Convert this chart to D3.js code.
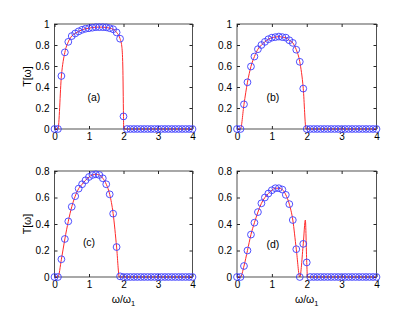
<!DOCTYPE html>
<html>
<head>
<meta charset="utf-8">
<script src="https://cdn.jsdelivr.net/npm/d3@7.9.0/dist/d3.min.js"></script>
<style>
  body { margin: 0; background: #fff; }
  svg { display: block; font-family: "Liberation Sans", Arial, sans-serif; }
  .tick text { font-size: 10px; fill: #000; }
</style>
</head>
<body>
<svg width="415" height="312"></svg>
<script>
// sample grid (omega / omega_1)
const omega = [0, 0.1, 0.2, 0.3, 0.4, 0.5, 0.6, 0.7, 0.8, 0.9, 1.0,
  1.1, 1.2, 1.3, 1.4, 1.5, 1.6, 1.7, 1.8, 1.9, 2.0,
  2.1, 2.2, 2.3, 2.4, 2.5, 2.6, 2.7, 2.8, 2.9, 3.0,
  3.1, 3.2, 3.3, 3.4, 3.5, 3.6, 3.7, 3.8, 3.9, 4.0];
const zeros20 = [0, 0, 0, 0, 0, 0, 0, 0, 0, 0, 0, 0, 0, 0, 0, 0, 0, 0, 0, 0];

// circle markers
const circA = [0, 0, 0.505, 0.73, 0.83, 0.885, 0.91, 0.93, 0.945, 0.955, 0.96,
  0.965, 0.97, 0.97, 0.97, 0.968, 0.96, 0.95, 0.92, 0.86, 0.12].concat(zeros20);
const circB = [0, 0, 0.235, 0.445, 0.595, 0.69, 0.76, 0.80, 0.83, 0.855, 0.87,
  0.875, 0.88, 0.875, 0.87, 0.845, 0.82, 0.755, 0.64, 0.385, 0].concat(zeros20);
const circC = [0, 0, 0.134, 0.287, 0.42, 0.53, 0.61, 0.667, 0.70, 0.73, 0.755,
  0.77, 0.775, 0.77, 0.745, 0.70, 0.624, 0.478, 0.226, 0.005, 0].concat(zeros20);
const circD = [0, 0, 0.083, 0.2, 0.32, 0.41, 0.49, 0.556, 0.60, 0.63, 0.655,
  0.67, 0.67, 0.66, 0.62, 0.55, 0.43, 0.21, 0, 0.25, 0.11].concat(zeros20);

// red curves
const lineXA = [0, 0.1, 0.2, 0.3, 0.4, 0.5, 0.6, 0.7, 0.8, 0.9, 1.0, 1.2, 1.4, 1.6, 1.7, 1.8, 1.9, 1.95, 1.98, 2.0, 2.006, 4];
const lineYA = [0, 0, 0.505, 0.73, 0.83, 0.885, 0.91, 0.93, 0.945, 0.955, 0.96, 0.97, 0.97, 0.96, 0.95, 0.92, 0.86, 0.79, 0.6, 0.12, 0, 0];
const lineXB = [0, 0.1, 0.2, 0.3, 0.4, 0.5, 0.6, 0.7, 0.8, 0.9, 1.0, 1.1, 1.2, 1.3, 1.4, 1.5, 1.6, 1.7, 1.8, 1.9, 1.98, 4];
const lineYB = [0, 0, 0.235, 0.445, 0.595, 0.69, 0.76, 0.80, 0.83, 0.855, 0.87, 0.875, 0.88, 0.875, 0.87, 0.845, 0.82, 0.755, 0.64, 0.385, 0, 0];
const lineXC = [0, 0.1, 0.2, 0.3, 0.4, 0.5, 0.6, 0.7, 0.8, 0.9, 1.0, 1.1, 1.2, 1.3, 1.4, 1.5, 1.6, 1.7, 1.8, 1.88, 4];
const lineYC = [0, 0, 0.134, 0.287, 0.42, 0.53, 0.61, 0.667, 0.70, 0.73, 0.755, 0.77, 0.775, 0.77, 0.745, 0.70, 0.624, 0.478, 0.226, 0, 0];
const lineXD = [0, 0.1, 0.2, 0.3, 0.4, 0.5, 0.6, 0.7, 0.8, 0.9, 1.0, 1.1, 1.2, 1.3, 1.4, 1.5, 1.6, 1.7, 1.8, 1.9, 1.96, 2.0, 2.02, 4];
const lineYD = [0, 0, 0.083, 0.2, 0.32, 0.41, 0.49, 0.556, 0.60, 0.63, 0.655, 0.67, 0.67, 0.66, 0.62, 0.55, 0.43, 0.21, 0, 0.25, 0.43, 0.11, 0, 0];

const xTicks = [0, 1, 2, 3, 4];
const yTicksTall = [0, 0.2, 0.4, 0.6, 0.8, 1];
const yTicksShort = [0, 0.2, 0.4, 0.6, 0.8];
const panelLabels = ['(a)', '(b)', '(c)', '(d)'];

const svg = d3.select('svg');

const panels = [
  { box: [54.5, 192.5, 24, 129], ymax: 1, yt: yTicksTall, circ: circA, lx: lineXA, ly: lineYA, lab: panelLabels[0], labPos: [1.14, 0.3], ylab: true, xlab: false },
  { box: [237, 376.5, 24, 129], ymax: 1, yt: yTicksTall, circ: circB, lx: lineXB, ly: lineYB, lab: panelLabels[1], labPos: [1.03, 0.3], ylab: false, xlab: false },
  { box: [54.5, 192.5, 171, 277], ymax: 0.8, yt: yTicksShort, circ: circC, lx: lineXC, ly: lineYC, lab: panelLabels[2], labPos: [1.0, 0.264], ylab: true, xlab: true },
  { box: [237, 376.5, 171, 277], ymax: 0.8, yt: yTicksShort, circ: circD, lx: lineXD, ly: lineYD, lab: panelLabels[3], labPos: [1.03, 0.25], ylab: false, xlab: true }
];

panels.forEach((p) => {
  const [l, r, t, b] = p.box;
  const x = d3.scaleLinear().domain([0, 4]).range([l, r]);
  const y = d3.scaleLinear().domain([0, p.ymax]).range([b, t]);
  const g = svg.append('g');

  // axes (inward ticks, box)
  const ax = (sel) => { sel.select('.domain').remove(); sel.selectAll('.tick line').attr('stroke', '#262626'); };
  g.append('g').attr('transform', `translate(0,${b})`)
    .call(d3.axisBottom(x).tickValues(xTicks).tickSize(-3).tickPadding(4).tickFormat(d3.format('d'))).call(ax);
  g.append('g').attr('transform', `translate(0,${t})`)
    .call(d3.axisTop(x).tickValues(xTicks).tickSize(-3).tickFormat('')).call(ax);
  g.append('g').attr('transform', `translate(${l},0)`)
    .call(d3.axisLeft(y).tickValues(p.yt).tickSize(-3).tickPadding(5).tickFormat((d) => d3.format('~g')(d))).call(ax);
  g.append('g').attr('transform', `translate(${r},0)`)
    .call(d3.axisRight(y).tickValues(p.yt).tickSize(-3).tickFormat('')).call(ax);
  g.selectAll('.tick text').style('font-family', null).attr('font-size', null);
  g.selectAll('g').attr('font-family', null).attr('font-size', null);

  // red curve
  const line = d3.line().x((d, i) => x(p.lx[i])).y((d) => y(d)).curve(d3.curveMonotoneX);
  g.append('path').datum(p.ly).attr('d', line)
    .attr('fill', 'none').attr('stroke', '#ff2a2a').attr('stroke-width', 1);

  g.append('rect').attr('x', l).attr('y', t).attr('width', r - l).attr('height', b - t)
    .attr('fill', 'none').attr('stroke', '#262626').attr('stroke-width', 0.8);

  // circles
  g.selectAll('circle').data(p.circ).enter().append('circle')
    .attr('cx', (d, i) => x(omega[i])).attr('cy', (d) => y(d)).attr('r', 3.4)
    .attr('fill', 'none').attr('stroke', '#3c3cff').attr('stroke-width', 0.9);

  g.append('text').attr('x', x(p.labPos[0])).attr('y', y(p.labPos[1]))
    .attr('text-anchor', 'middle').attr('dy', '0.35em').attr('font-size', 10.5)
    .text(p.lab);

  if (p.ylab) {
    g.append('text').attr('transform', `translate(${l - 27},${(t + b) / 2}) rotate(-90)`)
      .attr('text-anchor', 'middle').attr('dy', '0.35em').attr('font-size', 10.5)
      .text('T[ω]');
  }
  if (p.xlab) {
    const tx = g.append('text').attr('x', (l + r) / 2).attr('y', b + 26)
      .attr('text-anchor', 'middle').attr('font-size', 10.5);
    tx.append('tspan').text('ω/ω');
    tx.append('tspan').attr('font-size', 7.5).attr('dy', 3).text('1');
  }
});
</script>
</body>
</html>
